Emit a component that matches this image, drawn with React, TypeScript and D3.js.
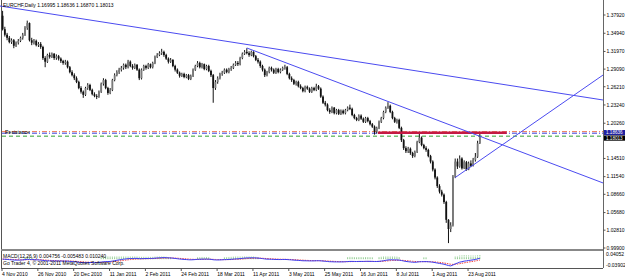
import React from 'react';
import * as d3 from 'd3';

const TITLE = 'EURCHF,Daily  1.16995 1.18636 1.16870 1.18013';
const MACD_TEXT = 'MACD(12,26,9) 0.004756 -0.005483 0.010240';
const COPYRIGHT = 'Go Trader 4, \u00a9 2001-2011 MetaQuotes Software Corp.';

const dateLabels = ['4 Nov 2010', '26 Nov 2010', '20 Dec 2010', '11 Jan 2011', '2 Feb 2011', '24 Feb 2011', '18 Mar 2011', '11 Apr 2011', '3 May 2011', '25 May 2011', '16 Jun 2011', '8 Jul 2011', '1 Aug 2011', '23 Aug 2011'];
const priceTicks = [1.3792, 1.3494, 1.3197, 1.2909, 1.2621, 1.2324, 1.2026, 1.1451, 1.1154, 1.0866, 1.0568, 1.0281, 0.999];
const macdTicks = [0.04052, -0.03902];
const priceLabels = [
  { price: 1.18636, text: '1.18636', bg: '#2020a0', center: 132.6 },
  { price: 1.18013, text: '1.18013', bg: '#000', center: 138.1 },
];

const opens0 = 1.378;
const closes = [
  1.356, 1.347, 1.342, 1.335, 1.338, 1.329, 1.334, 1.337, 1.342, 1.347,
  1.358, 1.366, 1.338, 1.334, 1.337, 1.330, 1.332, 1.327, 1.309, 1.303,
  1.314, 1.311, 1.316, 1.309, 1.312, 1.308, 1.304, 1.301, 1.303, 1.294,
  1.286, 1.281, 1.276, 1.270, 1.260, 1.254, 1.249, 1.260, 1.265, 1.257,
  1.250, 1.247, 1.246, 1.254, 1.267, 1.273, 1.260, 1.252, 1.257, 1.273,
  1.281, 1.286, 1.290, 1.293, 1.298, 1.294, 1.303, 1.296, 1.293, 1.298,
  1.290, 1.276, 1.290, 1.296, 1.293, 1.299, 1.294, 1.301, 1.311, 1.314,
  1.317, 1.319, 1.314, 1.308, 1.303, 1.306, 1.296, 1.290, 1.285, 1.280,
  1.283, 1.278, 1.281, 1.275, 1.280, 1.290, 1.296, 1.301, 1.294, 1.299,
  1.291, 1.296, 1.288, 1.281, 1.260, 1.270, 1.276, 1.283, 1.285, 1.290,
  1.286, 1.291, 1.293, 1.298, 1.301, 1.299, 1.309, 1.316, 1.319, 1.317,
  1.314, 1.319, 1.312, 1.306, 1.303, 1.296, 1.290, 1.281, 1.286, 1.293,
  1.290, 1.285, 1.291, 1.286, 1.290, 1.293, 1.294, 1.283, 1.276, 1.273,
  1.267, 1.270, 1.263, 1.260, 1.255, 1.262, 1.259, 1.254, 1.260, 1.257,
  1.263, 1.259, 1.246, 1.236, 1.233, 1.224, 1.221, 1.228, 1.219, 1.224,
  1.218, 1.223, 1.219, 1.224, 1.228, 1.226, 1.216, 1.211, 1.208, 1.215,
  1.210, 1.205, 1.211, 1.206, 1.201, 1.197, 1.189, 1.195, 1.205, 1.211,
  1.221, 1.228, 1.231, 1.221, 1.211, 1.205, 1.208, 1.195, 1.175, 1.162,
  1.157, 1.161, 1.154, 1.149, 1.156, 1.172, 1.179, 1.167, 1.162, 1.159,
  1.149, 1.140, 1.127, 1.114, 1.100, 1.091, 1.086, 1.074, 1.045, 1.030,
  1.036, 1.115, 1.140, 1.132, 1.145, 1.129, 1.139, 1.127, 1.137, 1.133,
  1.143, 1.148, 1.170, 1.18013,
];
const highs = [
  1.386, 1.360, 1.350, 1.345, 1.341, 1.340, 1.336, 1.340, 1.344, 1.350,
  1.361, 1.370, 1.367, 1.342, 1.340, 1.339, 1.335, 1.335, 1.329, 1.312,
  1.316, 1.318, 1.318, 1.317, 1.315, 1.314, 1.310, 1.306, 1.306, 1.305,
  1.296, 1.289, 1.284, 1.279, 1.272, 1.263, 1.256, 1.262, 1.268, 1.267,
  1.259, 1.253, 1.250, 1.256, 1.269, 1.276, 1.275, 1.262, 1.260, 1.275,
  1.284, 1.289, 1.293, 1.296, 1.300, 1.300, 1.306, 1.305, 1.299, 1.300,
  1.299, 1.292, 1.292, 1.298, 1.298, 1.301, 1.300, 1.303, 1.313, 1.317,
  1.320, 1.324, 1.321, 1.316, 1.310, 1.309, 1.307, 1.298, 1.292, 1.287,
  1.285, 1.285, 1.283, 1.283, 1.282, 1.292, 1.298, 1.304, 1.303, 1.301,
  1.300, 1.298, 1.298, 1.290, 1.283, 1.273, 1.279, 1.285, 1.288, 1.292,
  1.292, 1.293, 1.296, 1.300, 1.304, 1.304, 1.311, 1.318, 1.322, 1.325,
  1.320, 1.321, 1.320, 1.314, 1.309, 1.305, 1.298, 1.292, 1.288, 1.295,
  1.295, 1.292, 1.293, 1.293, 1.292, 1.295, 1.298, 1.296, 1.285, 1.279,
  1.275, 1.272, 1.272, 1.266, 1.262, 1.264, 1.264, 1.261, 1.262, 1.262,
  1.267, 1.265, 1.261, 1.248, 1.239, 1.235, 1.227, 1.230, 1.229, 1.226,
  1.226, 1.225, 1.225, 1.226, 1.230, 1.233, 1.228, 1.218, 1.213, 1.217,
  1.217, 1.212, 1.213, 1.213, 1.208, 1.203, 1.199, 1.197, 1.207, 1.213,
  1.223, 1.230, 1.237, 1.233, 1.223, 1.213, 1.210, 1.210, 1.197, 1.177,
  1.165, 1.164, 1.163, 1.156, 1.158, 1.174, 1.187, 1.181, 1.169, 1.165,
  1.161, 1.151, 1.142, 1.129, 1.116, 1.103, 1.094, 1.088, 1.076, 1.046,
  1.041, 1.118, 1.145, 1.145, 1.150, 1.147, 1.142, 1.141, 1.140, 1.142,
  1.146, 1.154, 1.174, 1.18636,
];
const lows = [
  1.354, 1.344, 1.338, 1.333, 1.332, 1.325, 1.327, 1.331, 1.335, 1.339,
  1.345, 1.355, 1.336, 1.330, 1.331, 1.328, 1.327, 1.324, 1.306, 1.294,
  1.301, 1.308, 1.309, 1.306, 1.306, 1.305, 1.301, 1.298, 1.298, 1.292,
  1.284, 1.279, 1.273, 1.268, 1.258, 1.251, 1.244, 1.247, 1.257, 1.255,
  1.248, 1.245, 1.242, 1.244, 1.252, 1.264, 1.258, 1.249, 1.250, 1.255,
  1.271, 1.279, 1.283, 1.287, 1.290, 1.291, 1.292, 1.294, 1.290, 1.291,
  1.288, 1.273, 1.274, 1.288, 1.290, 1.291, 1.292, 1.292, 1.299, 1.309,
  1.312, 1.314, 1.311, 1.306, 1.300, 1.301, 1.294, 1.287, 1.283, 1.277,
  1.278, 1.276, 1.276, 1.273, 1.273, 1.278, 1.288, 1.294, 1.292, 1.292,
  1.289, 1.289, 1.286, 1.278, 1.236, 1.257, 1.267, 1.274, 1.280, 1.283,
  1.284, 1.284, 1.288, 1.291, 1.296, 1.296, 1.297, 1.307, 1.314, 1.315,
  1.311, 1.312, 1.310, 1.304, 1.300, 1.293, 1.287, 1.278, 1.279, 1.284,
  1.287, 1.283, 1.283, 1.284, 1.284, 1.288, 1.290, 1.281, 1.274, 1.270,
  1.265, 1.264, 1.261, 1.258, 1.253, 1.253, 1.257, 1.252, 1.252, 1.255,
  1.255, 1.257, 1.244, 1.234, 1.230, 1.222, 1.218, 1.219, 1.217, 1.217,
  1.216, 1.216, 1.217, 1.217, 1.222, 1.224, 1.214, 1.209, 1.206, 1.206,
  1.208, 1.203, 1.203, 1.204, 1.199, 1.195, 1.184, 1.186, 1.193, 1.203,
  1.209, 1.219, 1.226, 1.219, 1.209, 1.203, 1.202, 1.193, 1.172, 1.159,
  1.154, 1.154, 1.151, 1.146, 1.147, 1.154, 1.170, 1.165, 1.160, 1.156,
  1.147, 1.137, 1.124, 1.111, 1.097, 1.088, 1.083, 1.071, 1.040, 1.007,
  1.025, 1.034, 1.113, 1.128, 1.130, 1.127, 1.128, 1.125, 1.126, 1.131,
  1.132, 1.140, 1.146, 1.1687,
];

// chart objects: [barIndex, price] anchors
const trendLines = [
  { a: [-1.2, 1.3939], b: [268, 1.2405], color: '#4b4bf0' },
  { a: [109, 1.3254], b: [268, 1.1051], color: '#4b4bf0' },
  { a: [202, 1.1140], b: [268, 1.2813], color: '#4b4bf0' },
];
const hLines = [
  { price: 1.1890, color: '#f08060', dash: '5,2,1,2' },
  { price: 1.18636, color: '#3c3cd8', dash: '5,2,1,2' },
  { price: 1.1815, color: '#30a030', dash: '4,3' },
];
const resistance = { from: 167.5, to: 225, price: 1.1870 };

function ema(vals: number[], n: number) {
  const k = 2 / (n + 1);
  const out: number[] = [];
  let prev = vals[0];
  vals.forEach((v, i) => {
    prev = i === 0 ? v : v * k + prev * (1 - k);
    out.push(prev);
  });
  return out;
}

export default function App() {
  const n = closes.length;
  const opens = closes.map((c, i) => (i === 0 ? opens0 : closes[i - 1]));
  const x = d3.scaleLinear().domain([0, n - 1]).range([2.6, 2.6 + (n - 1) * 2.2406]);
  const y = d3.scaleLinear().domain([0.999, 1.3792]).range([248, 15]);
  const e12 = ema(closes, 12);
  const e26 = ema(closes, 26);
  const macd = closes.map((_, i) => e12[i] - e26[i]);
  const signal = ema(macd, 9);
  const ym = d3.scaleLinear().domain([-0.03902, 0.04052]).range([266, 252]);
  const macdLine = d3.line<number>().x((_, i) => x(i)).y((d) => ym(d))(macd) || '';
  const sigLine = d3.line<number>().x((_, i) => x(i)).y((d) => ym(d))(signal) || '';
  const fs = 5;
  const AX = 603;

  const clipLine = (t: any) => {
    const x1 = Math.max(x(t.a[0]), 0);
    const slope = (y(t.b[1]) - y(t.a[1])) / (x(t.b[0]) - x(t.a[0]));
    const y1 = y(t.a[1]) + slope * (x1 - x(t.a[0]));
    const x2 = AX;
    const y2 = y(t.a[1]) + slope * (x2 - x(t.a[0]));
    return { x1, y1, x2, y2 };
  };

  return (
    <svg width={625} height={278} style={{ position: 'absolute', left: 0, top: 0, background: '#fff' }} fontFamily="Liberation Sans, Arial, sans-serif">
      <rect x={0} y={0} width={625} height={278} fill="#fff" />
      {/* frame */}
      <line x1={1.5} y1={0} x2={1.5} y2={268} stroke="#555" strokeWidth={1} />
      <line x1={AX + 0.5} y1={0} x2={AX + 0.5} y2={268} stroke="#666" strokeWidth={1} />
      <line x1={1} y1={250} x2={AX} y2={250} stroke="#888" strokeWidth={2} />
      <line x1={1} y1={268.5} x2={AX} y2={268.5} stroke="#555" strokeWidth={1} />

      {/* horizontal lines */}
      {hLines.map((h, i) => (
        <line key={'h' + i} x1={2} x2={AX} y1={y(h.price)} y2={y(h.price)} stroke={h.color} strokeWidth={1} strokeDasharray={h.dash} />
      ))}

      {/* candles */}
      {closes.map((c, i) => {
        const o = opens[i];
        const bull = c >= o;
        const top = y(Math.max(o, c));
        const bot = y(Math.min(o, c));
        return (
          <g key={i}>
            <line x1={x(i)} x2={x(i)} y1={y(highs[i])} y2={y(lows[i])} stroke="#111" strokeWidth={1} />
            <rect x={x(i) - 0.9} width={1.8} y={top} height={Math.max(bot - top, 0.9)} fill={bull ? '#7a7a7a' : '#111'} />
          </g>
        );
      })}

      {/* resistance */}
      <line x1={x(resistance.from)} x2={x(resistance.to)} y1={y(resistance.price)} y2={y(resistance.price)} stroke="#c41a44" strokeWidth={2.6} />

      {/* trendlines */}
      {trendLines.map((t, i) => {
        const c = clipLine(t);
        return <line key={'t' + i} {...c} stroke={t.color} strokeWidth={1} />;
      })}

      {/* title */}
      <text x={3} y={5} dy="0.35em" fontSize={fs} fill="#000">{TITLE}</text>
      <text x={5} y={y(1.18636) - 0.5} dy="0.35em" fontSize={fs} fill="#000">Resistance</text>

      {/* price axis */}
      {priceTicks.map((p, i) => (
        <g key={'p' + i}>
          <line x1={AX} x2={AX + 2.5} y1={y(p)} y2={y(p)} stroke="#555" />
          <text x={AX + 3.5} y={y(p)} dy="0.35em" fontSize={fs} fill="#000">{p.toFixed(5)}</text>
        </g>
      ))}
      {priceLabels.map((l, i) => (
        <g key={'pl' + i}>
          <rect x={AX + 1} y={l.center - 2.6} width={21} height={5.2} fill={l.bg} />
          <text x={AX + 3} y={l.center} dy="0.35em" fontSize={4.6} fill="#fff">{l.text}</text>
        </g>
      ))}

      {/* MACD */}
      {macd.map((m, i) => {
        const h = m - signal[i];
        return h > 0 ? (
          <line key={'hg' + i} x1={x(i)} x2={x(i)} y1={ym(0)} y2={ym(h) - 2} stroke="#2e9e2e" strokeWidth={0.8} strokeDasharray="0.8,0.8" />
        ) : null;
      })}
      <path d={sigLine} fill="none" stroke="#f04040" strokeWidth={1} strokeDasharray="1.5,1" />
      <path d={macdLine} fill="none" stroke="#3c3cf0" strokeWidth={1} />
      <text x={3} y={256} dy="0.35em" fontSize={fs} fill="#000">{MACD_TEXT}</text>
      <text x={3} y={263} dy="0.35em" fontSize={fs} fill="#000">{COPYRIGHT}</text>
      {macdTicks.map((m, i) => (
        <text key={'m' + i} x={AX + 3} y={i === 0 ? 254 : 265} dy="0.35em" fontSize={fs} fill="#000">{m.toFixed(5)}</text>
      ))}

      {/* date axis */}
      {dateLabels.map((d, k) => (
        <g key={'d' + k}>
          <line x1={x(k * 16) - 0.6} x2={x(k * 16) - 0.6} y1={268} y2={271} stroke="#555" />
          <text x={x(k * 16) - 0.5} y={274} dy="0.35em" fontSize={fs} fill="#000">{d}</text>
        </g>
      ))}
    </svg>
  );
}
